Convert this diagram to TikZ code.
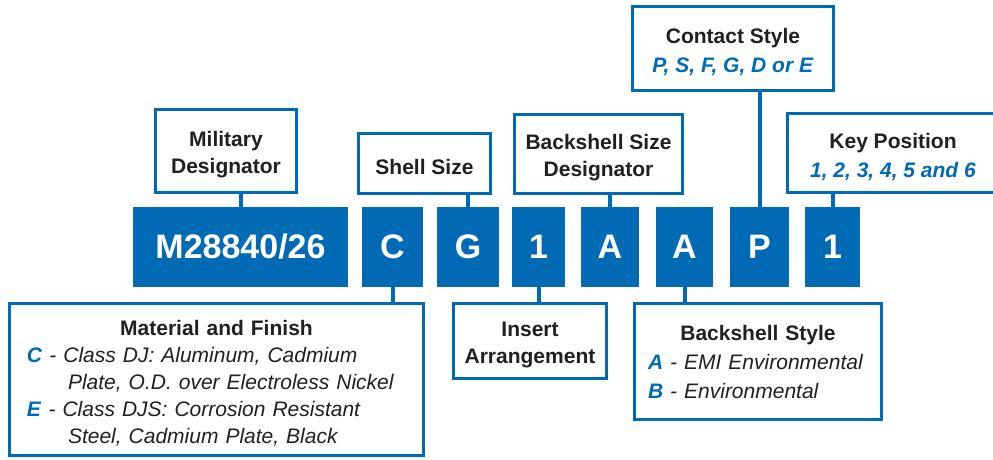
\documentclass[tikz,border=0pt]{standalone}
\usepackage{fontspec}
\setmainfont{Liberation Sans}
\usetikzlibrary{positioning,calc}
\definecolor{pnBlue}{HTML}{006AB5}
\definecolor{pnText}{HTML}{231F20}
\tikzset{
  pncode/.style={fill=pnBlue,text=white,minimum height=80pt,inner sep=0pt,
                 font=\fontsize{34}{34}\selectfont\bfseries},
  pnbox/.style={draw=pnBlue,line width=3pt,fill=white,text=pnText,align=center,
                inner sep=0pt,font=\fontsize{21}{27}\selectfont\bfseries},
  pnwide/.style={pnbox,font=\fontsize{21}{29}\selectfont\bfseries},
  pnlist/.style={pnbox,align=left,font=\fontsize{21}{27}\selectfont},
  pnlink/.style={draw=pnBlue,line width=4pt},
}
\newcommand{\pnval}[1]{\textcolor{pnBlue}{\textbf{\textit{#1}}}}
\newcommand{\pnhead}[1]{\hskip0pt plus1fill\textbf{#1}\hskip0pt plus1fill\null}
\newcommand{\pnlow}{\rule{0pt}{23pt}}

\begin{document}
\begin{tikzpicture}[x=1pt,y=-1pt]
  \useasboundingbox (0,0) rectangle (993,459);

  % Part number row.
  \node[pncode,minimum width=215pt] (mcode) at (240.5,247) {M28840/26};
  \node[pncode,minimum width=61pt]  (ccode) at (392.5,247) {C};
  \node[pncode,minimum width=62pt]  (gcode) at (468,247)   {G};
  \node[pncode,minimum width=53pt]  (icode) at (538.5,247) {1};
  \node[pncode,minimum width=58pt]  (acode) at (610,247)   {A};
  \node[pncode,minimum width=57pt]  (bcode) at (684.5,247) {A};
  \node[pncode,minimum width=59pt]  (pcode) at (759.5,247) {P};
  \node[pncode,minimum width=55pt]  (kcode) at (832.5,247) {1};

  % Callouts above the row.
  \node[pnbox,minimum width=141pt,minimum height=83pt] (mil) at (226,151)
        {\pnlow Military\\Designator};
  \node[pnbox,minimum width=132pt,minimum height=60pt] (shell) at (424.5,163.5)
        {\pnlow Shell Size};
  \node[pnbox,minimum width=168pt,minimum height=79pt] (bsize) at (598.5,154)
        {\pnlow Backshell Size\\Designator};
  \node[pnwide,minimum width=201pt,minimum height=84pt] (contact) at (733,48.5)
        {\pnlow Contact Style\\\pnval{P, S, F, G, D or E}};
  \node[pnwide,minimum width=211pt,minimum height=79pt] (key) at (893,153)
        {\pnlow Key Position\\\pnval{1, 2, 3, 4, 5 and 6}};

  % Callouts below the row.
  \node[pnlist,minimum width=414pt,minimum height=152pt,text width=379pt] (matfin)
        at (216.5,379.5)
        {\pnlow\pnhead{Material and Finish}\\
         \pnval{C} \textit{- Class DJ: Aluminum, Cadmium}\\
         \hspace*{41pt}\textit{Plate, O.D. over Electroless Nickel}\\
         \pnval{E} \textit{- Class DJS: Corrosion Resistant}\\
         \hspace*{41pt}\textit{Steel, Cadmium Plate, Black}};
  \node[pnbox,minimum width=153pt,minimum height=75pt] (insert) at (530,341)
        {\pnlow Insert\\Arrangement};
  \node[pnlist,font=\fontsize{21}{29}\selectfont,minimum width=247pt,
        minimum height=116pt,text width=220pt] (bstyle) at (758,361.5)
        {\pnhead{Backshell Style}\\
         \pnval{A} \textit{- EMI Environmental}\\
         \pnval{B} \textit{- Environmental}};

  \draw[pnlink] (mcode.north) -- (mcode.north |- mil.south);
  \draw[pnlink] (gcode.north) -- (gcode.north |- shell.south);
  \draw[pnlink] (acode.north) -- (acode.north |- bsize.south);
  \draw[pnlink] (pcode.north) -- (pcode.north |- contact.south);
  \draw[pnlink] (kcode.north) -- (kcode.north |- key.south);
  \draw[pnlink] (ccode.south) -- (ccode.south |- matfin.north);
  \draw[pnlink] (icode.south) -- (icode.south |- insert.north);
  \draw[pnlink] (bcode.south) -- (bcode.south |- bstyle.north);
\end{tikzpicture}
\end{document}
